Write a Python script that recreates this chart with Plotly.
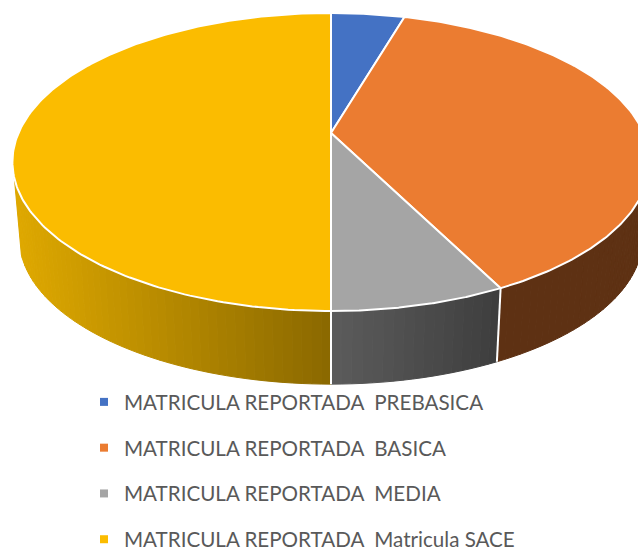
import numpy as np
import plotly.graph_objects as go

categories = ["MATRICULA REPORTADA\u00a0\u00a0PREBASICA", "MATRICULA REPORTADA\u00a0\u00a0BASICA",
              "MATRICULA REPORTADA\u00a0\u00a0MEDIA", "MATRICULA REPORTADA\u00a0\u00a0Matricula SACE"]
values = [4.5, 38.1, 7.4, 50.0]
colors = ["#4472C4", "#EB7C31", "#A5A5A5", "#FBBC00"]

# wall shade at left and right of each slice's visible face (by screen x)
wall_left = [(47, 80, 140), (94, 49, 19), (92, 92, 92), (222, 168, 0)]
wall_right = [(47, 80, 140), (94, 49, 19), (62, 62, 62), (138, 104, 0)]

# projection of the tilted disc
CX, CY, A, B, K = 331.0, 133.0, 143.4, 312.5, -0.1946
WALL_SCALE, WALL_DROP = 0.978, 77.0
VIS_V = 0.30


def project(t, s=1.0, dy=0.0):
    u, v = np.sin(t), -np.cos(t)
    d = 1 + K * v
    return CX + s * B * u / d, CY + dy + s * A * v / d


fig = go.Figure()
edges = 2 * np.pi * np.concatenate([[0], np.cumsum(values)]) / np.sum(values)

# side walls
for i in range(len(values)):
    ts = np.linspace(edges[i], edges[i + 1], max(3, int((edges[i + 1] - edges[i]) * 40)))
    for t0, t1 in zip(ts[:-1], ts[1:]):
        tm = (t0 + t1) / 2
        if -np.cos(tm) < VIS_V:
            continue
        x0, y0 = project(t0)
        x1, y1 = project(t1)
        x2, y2 = project(t1, WALL_SCALE, WALL_DROP)
        x3, y3 = project(t0, WALL_SCALE, WALL_DROP)
        xm = (x0 + x1 + x2 + x3) / 4
        if i == 3:
            f = np.clip((xm - 20) / (331 - 20), 0, 1)
        elif i == 2:
            f = np.clip((xm - 331) / (497 - 331), 0, 1)
        else:
            f = 0
        c = [round(a + (b - a) * f) for a, b in zip(wall_left[i], wall_right[i])]
        col = f"rgb({c[0]},{c[1]},{c[2]})"
        fig.add_trace(go.Scatter(x=[x0, x1, x2, x3, x0], y=[y0, y1, y2, y3, y0], mode="lines",
                                 fill="toself", fillcolor=col, line=dict(color=col, width=1),
                                 showlegend=False, hoverinfo="skip"))

# white dividers on the wall
for e in edges[1:-1]:
    if -np.cos(e) > VIS_V:
        x0, y0 = project(e)
        x1, y1 = project(e, WALL_SCALE, WALL_DROP)
        fig.add_trace(go.Scatter(x=[x0, x1], y=[y0, y1], mode="lines",
                                 line=dict(color="white", width=2),
                                 showlegend=False, hoverinfo="skip"))

# top faces
for i in range(len(values)):
    ts = np.linspace(edges[i], edges[i + 1], 200)
    xs, ys = project(ts)
    xs = np.concatenate([[CX], xs, [CX]])
    ys = np.concatenate([[CY], ys, [CY]])
    fig.add_trace(go.Scatter(x=xs, y=ys, mode="lines", fill="toself", fillcolor=colors[i],
                             line=dict(color="white", width=2), showlegend=False,
                             hovertext=categories[i], hoverinfo="text"))

# legend
for i, name in enumerate(categories):
    fig.add_trace(go.Scatter(x=[None], y=[None], mode="markers", name=name, legendgroup=str(i),
                             marker=dict(symbol="square", size=8, color=colors[i])))

fig.update_layout(
    width=638, height=550, margin=dict(l=0, r=0, t=0, b=0, autoexpand=False),
    paper_bgcolor="white", plot_bgcolor="white",
    xaxis=dict(range=[0, 638], visible=False, fixedrange=True),
    yaxis=dict(range=[550, 0], visible=False, fixedrange=True),
    showlegend=True,
    legend=dict(x=84 / 638, y=1 - 382 / 550, xanchor="left", yanchor="top",
                font=dict(family="Lato", size=20.6, color="#595959"),
                tracegroupgap=16, borderwidth=0, bgcolor="rgba(0,0,0,0)",
                itemclick=False, itemdoubleclick=False),
)
fig.write_html("out.html", post_script="document.body.style.margin='0';",
               config={"displayModeBar": False})
